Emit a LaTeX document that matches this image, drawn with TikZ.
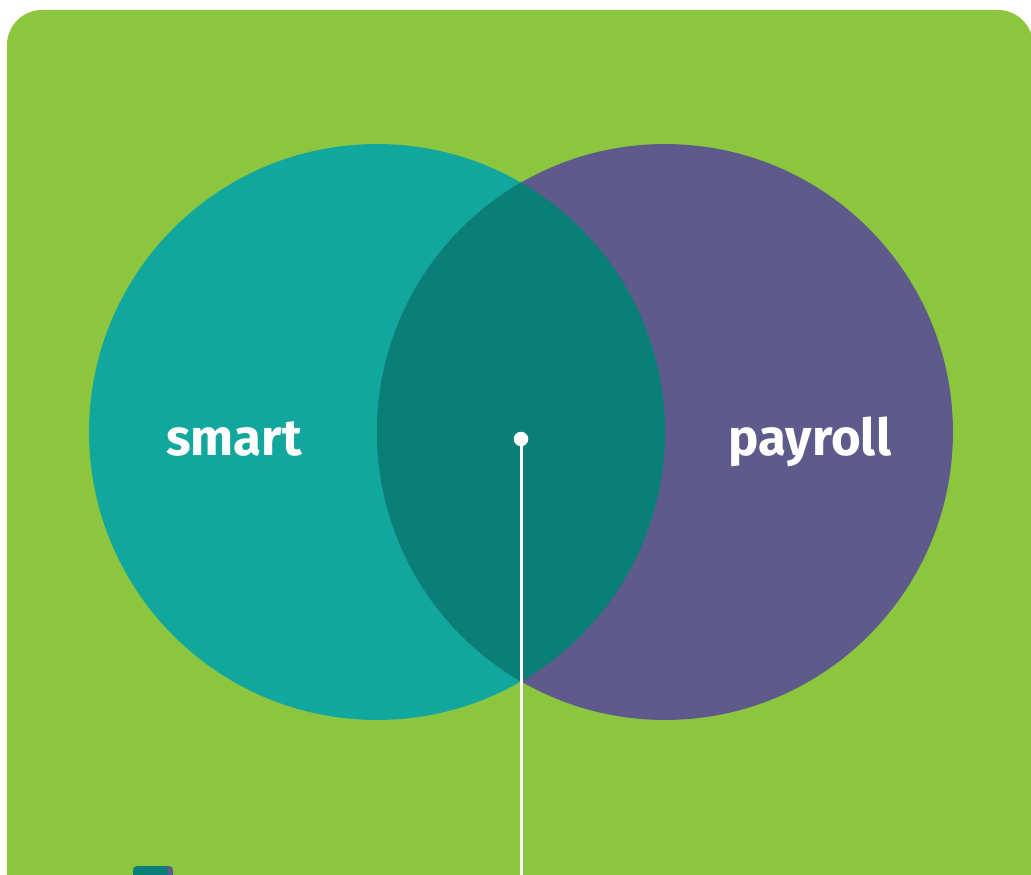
\documentclass[tikz,border=0pt]{standalone}
\usepackage{fontspec}
\setmainfont{Fira Sans}
\usepackage{tikz}
\usetikzlibrary{calc}

\definecolor{bggreen}{HTML}{8CC63F}
\definecolor{smartteal}{HTML}{12A79D}
\definecolor{payrollpurple}{HTML}{5E5A8C}
\definecolor{overlapteal}{HTML}{0A7F77}

\begin{document}
\begin{tikzpicture}[x=0.02cm, y=-0.02cm,
    setcircle/.style = {circle, minimum size=11.52cm, inner sep=0pt},
    setlabel/.style = {text=white, font=\fontsize{29}{32}\selectfont\bfseries, anchor=base},
    pin/.style = {circle, fill=white, minimum size=0.29cm, inner sep=0pt}]
    \useasboundingbox (0,0) rectangle (1031,875);
    \fill[white] (0,0) rectangle (1031,875);
    \fill[bggreen, rounded corners=0.7cm] (7,10) rectangle (1033,930);
    % the two sets
    \node[setcircle, fill=smartteal] (smart) at (377,432) {};
    \node[setcircle, fill=payrollpurple] (payroll) at (665,432) {};
    \begin{scope}
      \clip (377,432) circle (288);
      \fill[overlapteal] (665,432) circle (288);
    \end{scope}
    \node[setlabel] (smartlabel) at (234,455) {smart};
    \node[setlabel] (payrolllabel) at (810,455) {payroll};
    % pointer from the overlap
    \node[pin] (dot) at (521,439) {};
    \coordinate (down) at (521,880);
    \draw[white, line width=0.06cm] (dot.center) -- (down);
    % legend swatch, cut by the page edge
    \fill[payrollpurple, rounded corners=0.08cm] (136,866) rectangle (173,900);
    \fill[overlapteal, rounded corners=0.08cm] (133,866) rectangle (168,900);
  \end{tikzpicture}
\end{document}
